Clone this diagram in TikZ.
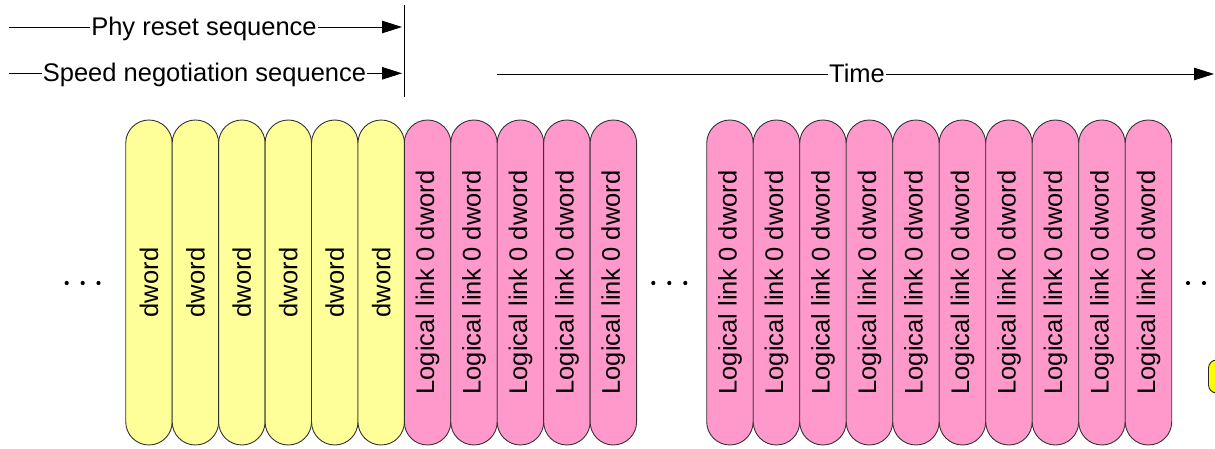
\documentclass[tikz,border=0pt]{standalone}
\usepackage{fontspec}
\setmainfont{Liberation Sans}
\usetikzlibrary{shapes.misc,arrows.meta}
\definecolor{pillyellow}{HTML}{FFFF99}
\definecolor{pillpink}{HTML}{FF99CC}
\definecolor{brightyellow}{HTML}{FFFF00}
\tikzset{
  pill/.style={shape=rounded rectangle, rotate=90, minimum width=325pt, minimum height=46.5pt,
    inner sep=0pt, draw=black!80, line width=0.9pt, font=\fontsize{25.5}{30}\selectfont},
  ypill/.style={pill, fill=pillyellow},
  ppill/.style={pill, fill=pillpink},
  lbl/.style={anchor=base, inner sep=1pt, font=\fontsize{25.5}{30}\selectfont},
  seqline/.style={line width=0.9pt},
  seqarrow/.style={line width=0.9pt, -{Triangle[length=20pt,width=12.5pt]}},
  dot/.style={fill=black, draw=none}
}
\begin{document}
\begin{tikzpicture}[x=1pt,y=-1pt]
\useasboundingbox (0,0) rectangle (1215,449);
\begin{scope}
\clip (0,0) rectangle (1215,449);
% yellow pills
\foreach \i in {0,...,5} {
  \node[ypill] (y\i) at ({125.7+23.25+46.45*\i},282.5) {dword};
}
% pink pills, first group
\foreach \i in {0,...,4} {
  \node[ppill] (p\i) at ({404.3+23.25+46.45*\i},282.5) {Logical link 0 dword};
}
% pink pills, second group
\foreach \i in {0,...,9} {
  \node[ppill] (q\i) at ({706.7+23.25+46.5*\i},282.5) {Logical link 0 dword};
}
% dots
\foreach \x in {66.7,82.7,98.5, 653.3,669.3,685.3, 1188,1204,1220} {
  \fill[dot] (\x,283) circle (2.1);
}
% partial yellow shape at right edge
\draw[fill=brightyellow, draw=black!85, line width=0.9pt, rounded corners=8pt] (1208.5,360) rectangle (1240,393);
\end{scope}

% top sequence arrows
\coordinate (phyS) at (9,27);
\coordinate (phyE) at (402,27);
\node[lbl] (phy) at (204,36) {Phy reset sequence};
\draw[seqline] (phyS) -- (phyS -| phy.west);
\draw[seqarrow] (phyS -| phy.east) -- (phyE);

\coordinate (spdS) at (9,73.3);
\coordinate (spdE) at (402,73.3);
\node[lbl] (spd) at (204.5,82) {Speed negotiation sequence};
\draw[seqline] (spdS) -- (spdS -| spd.west);
\draw[seqarrow] (spdS -| spd.east) -- (spdE);

\coordinate (vT) at (404.5,5);
\coordinate (vB) at (404.5,97);
\draw[seqline] (vT) -- (vB);

\coordinate (timeS) at (497,74);
\coordinate (timeE) at (1214,74);
\node[lbl] (time) at (857,82.5) {Time};
\draw[seqline] (timeS) -- (timeS -| time.west);
\draw[seqarrow] (timeS -| time.east) -- (timeE);
\end{tikzpicture}
\end{document}
